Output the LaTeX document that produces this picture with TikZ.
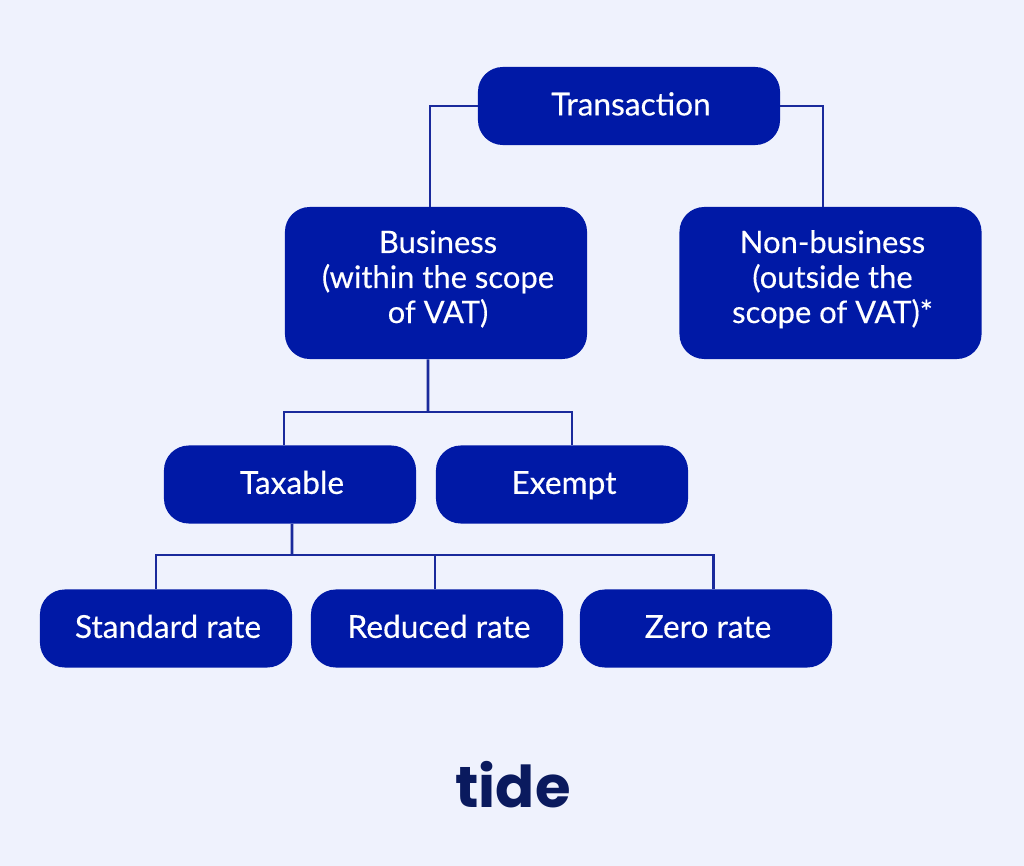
\documentclass[tikz,border=0pt]{standalone}
\usepackage{fontspec}
\setmainfont{Lato}[FakeBold=0.35]
\newfontfamily\logofont{Poppins}
\definecolor{fondo}{HTML}{EFF2FD}
\definecolor{azul}{HTML}{0019A6}
\definecolor{linea}{HTML}{1A2A9C}
\definecolor{marino}{HTML}{0A1A5E}
\begin{document}
\begin{tikzpicture}[
        x=0.025cm, y=-0.025cm,
        caja/.style={rounded corners=0.62cm, fill=azul, text=white, align=center, inner sep=0pt, minimum width=6.3cm, minimum height=1.95cm, text height=0.6cm, text depth=0.13cm, execute at begin node=\hspace*{0.1cm}, font=\fontsize{22.5}{24.9}\selectfont},
        cajaancha/.style={caja, minimum width=7.55cm},
        cajagrande/.style={cajaancha, minimum height=3.8cm, text height=2.3cm, text depth=0.3cm, execute at begin node=, font=\fontsize{22}{24.9}\selectfont},
        enlace/.style={draw=linea, line width=1.9pt}
    ]
        \useasboundingbox (0,0) rectangle (1024,866);
        \fill[fondo] (0,0) rectangle (1024,866);

        % Cajas
        \node[cajaancha] (trans) at (629,106) {Transaction};
        \node[cajagrande] (biz) at (436,283) {Business\\(within the scope\\of VAT)};
        \node[cajagrande] (nonbiz) at (830.5,283) {Non-business\\(outside the\\scope of VAT)*};
        \node[caja] (tax) at (290,484.5) {Taxable};
        \node[caja] (exempt) at (562,484.5) {Exempt};
        \node[caja] (std) at (166,628.5) {Standard rate};
        \node[caja] (red) at (437,628.5) {Reduced rate};
        \node[caja] (zero) at (706,628.5) {Zero rate};

        % Logo
        \node[text=marino, inner sep=0pt, font=\logofont\bfseries\fontsize{41}{41}\selectfont] (logo) at (513,785) {tide};

        % Enlaces de arriba
        \draw[enlace] (trans.west) -| ([xshift=-0.15cm]biz.north);
        \draw[enlace] (trans.east) -| ([xshift=-0.19cm]nonbiz.north);

        % Business a Taxable y Exempt
        \coordinate (bus1) at (428,412);
        \draw[enlace] ([xshift=-0.2cm]biz.south) -- (bus1);
        \draw[enlace] ([xshift=-0.15cm]tax.north) |- (bus1);
        \draw[enlace] ([xshift=0.25cm]exempt.north) |- (bus1);

        % Taxable a las tarifas
        \coordinate (bus2) at (292,555);
        \draw[enlace] ([xshift=0.05cm]tax.south) -- (bus2);
        \draw[enlace] ([xshift=-0.25cm]std.north) |- (bus2);
        \draw[enlace] ([xshift=-0.05cm]red.north) |- (bus2);
        \draw[enlace] ([xshift=0.18cm]zero.north) |- (bus2);
    \end{tikzpicture}
\end{document}
